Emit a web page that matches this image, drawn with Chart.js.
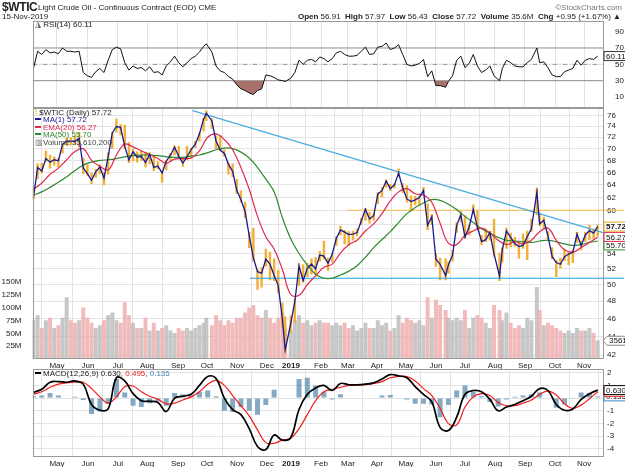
<!DOCTYPE html>
<html lang="en">
<head>
<meta charset="UTF-8">
<title>$WTIC Light Crude Oil - Daily</title>
<script src="https://cdn.jsdelivr.net/npm/chart.js"></script>
<style>
  body { margin: 0; background: #fff; font-family: "Liberation Sans", Arial, sans-serif; }
  #wrap { position: relative; width: 625px; height: 467px; overflow: hidden; }
  canvas { position: absolute; left: 0; top: 0; }
  .txt { position: absolute; z-index: 5; white-space: nowrap; font-size: 8px; line-height: 8px; color: #222; }
  .sw { display: inline-block; width: 6px; height: 2px; vertical-align: 2px; margin-right: 2px; }
</style>
</head>
<body>
<div id="wrap">
  <canvas id="rsiChart" width="625" height="467"></canvas>
  <canvas id="priceChart" width="625" height="467"></canvas>
  <canvas id="macdChart" width="625" height="467"></canvas>

  <!-- header -->
  <div class="txt" style="left:2px;top:1px;font-size:12px;line-height:12px;font-weight:bold;letter-spacing:-0.4px;">$WTIC</div>
  <div class="txt" style="left:38px;top:4px;">Light Crude Oil - Continuous Contract (EOD) CME</div>
  <div class="txt" style="right:3px;top:4px;color:#777;">©StockCharts.com</div>
  <div class="txt" style="left:2px;top:13px;">15-Nov-2019</div>
  <div class="txt" style="right:4px;top:13px;"><b>Open</b> 56.91 &nbsp;<b>High</b> 57.97 &nbsp;<b>Low</b> 56.43 &nbsp;<b>Close</b> 57.72 &nbsp;<b>Volume</b> 35.6M &nbsp;<b>Chg</b> +0.95 (+1.67%) ▲</div>

  <!-- panel legends -->
  <div class="txt" style="left:35px;top:21px;"><span style="color:#666">◮</span> RSI(14) 60.11</div>

  <div class="txt" style="left:35px;top:109px;"><span style="color:#f2b03a;font-weight:bold">⫶</span> $WTIC (Daily) 57.72</div>
  <div class="txt" style="left:35px;top:116px;color:#1a1a90;"><span class="sw" style="background:#1a1a90"></span>MA(1) 57.72</div>
  <div class="txt" style="left:35px;top:123.5px;color:#e0284f;"><span class="sw" style="background:#e0284f"></span>EMA(20) 56.27</div>
  <div class="txt" style="left:35px;top:131px;color:#2d8a2d;"><span class="sw" style="background:#2d8a2d"></span>MA(50) 55.70</div>
  <div class="txt" style="left:35px;top:138.5px;color:#444;"><span style="color:#777">▥</span>Volume 35,610,200</div>

  <div class="txt" style="left:35px;top:370px;"><span class="sw" style="background:#000"></span>MACD(12,26,9) 0.630, <span style="color:#e81c1c">0.495</span>, <span style="color:#3d86c0">0.135</span></div>
</div>

<script>
  // ---------------- data (x = trading day counted from 6-Apr-2018) ----------------
  const monthDays   = [17, 39.4, 61.1, 82.1, 104.5, 125.5, 147.2, 168.8, 186.2, 207.9,
                       227.4, 248.4, 269.4, 291, 312, 333.7, 355.4, 377.1, 398.1];
  const monthLabels = ['May', 'Jun', 'Jul', 'Aug', 'Sep', 'Oct', 'Nov', 'Dec', '2019', 'Feb',
                       'Mar', 'Apr', 'May', 'Jun', 'Jul', 'Aug', 'Sep', 'Oct', 'Nov'];

  const priceTicks = [42, 44, 46, 48, 50, 52, 54, 56, 58, 60, 62, 64, 66, 68, 70, 72, 74, 76];
  const volTicks   = [25, 50, 75, 100, 125, 150];   // millions
  const rsiTicks   = [10, 30, 50, 70, 90];
  const rsiLevels  = [30, 50, 70];
  const macdTicks  = [-4, -3, -2, -1, 0, 1, 2];

  // daily samples (every ~3 sessions)
  const days = [
    0, 3, 6, 9, 12, 15, 18, 21, 24, 27,
    30, 33, 36, 39, 42, 45, 48, 51, 54, 57,
    60, 63, 66, 69, 72, 75, 78, 81, 84, 87,
    90, 93, 96, 99, 102, 105, 108, 111, 114, 117,
    120, 123, 125, 129, 132, 135, 138, 141, 144, 147,
    150, 153, 156, 159, 162, 165, 168, 171, 174, 177,
    180, 182, 186, 189, 192, 195, 198, 201, 204, 207,
    210, 213, 216, 219, 222, 225, 228, 231, 234, 237,
    240, 243, 246, 249, 252, 255, 258, 261, 264, 267,
    270, 273, 276, 279, 282, 285, 288, 291, 294, 298,
    300, 303, 306, 309, 312, 315, 318, 321, 324, 327,
    330, 333, 337, 339, 342, 345, 348, 351, 354, 357,
    360, 364, 366, 369, 372, 375, 378, 381, 384, 387,
    390, 393, 396, 399, 402, 405, 408
  ];
  const closes = [
    62.06, 66.82, 66.22, 68.29, 67.70, 68.10, 67.93, 70.73, 71.36, 71.31,
    71.28, 71.84, 66.73, 65.81, 64.73, 66.10, 66.89, 65.07, 68.58, 72.76,
    73.94, 73.80, 70.38, 68.06, 69.46, 68.52, 68.69, 67.66, 69.01, 66.81,
    67.04, 65.91, 67.86, 68.87, 70.25, 68.72, 67.54, 68.59, 69.85, 70.78,
    72.57, 75.30, 76.41, 74.96, 71.34, 69.75, 69.17, 67.33, 66.18, 63.14,
    61.67, 59.93, 56.46, 53.43, 51.63, 51.45, 53.25, 52.61, 51.15, 49.88,
    45.88, 42.53, 45.41, 47.96, 52.36, 50.51, 52.07, 52.62, 51.99, 53.79,
    53.66, 52.72, 53.90, 56.09, 57.26, 56.94, 56.59, 56.66, 56.87, 58.52,
    60.23, 58.82, 59.30, 62.58, 63.08, 64.61, 63.40, 64.00, 65.89, 63.50,
    61.81, 61.40, 61.66, 62.02, 63.10, 57.91, 59.14, 53.25, 52.59, 51.14,
    52.51, 53.76, 57.90, 59.43, 56.25, 57.66, 60.20, 57.62, 55.63, 55.88,
    56.87, 53.95, 51.09, 54.50, 57.10, 56.21, 55.35, 54.93, 55.10, 56.30,
    57.40, 62.90, 58.11, 58.64, 56.41, 53.62, 52.81, 52.59, 53.59, 53.93,
    54.16, 56.66, 55.06, 56.54, 57.15, 56.80, 57.72
  ];
  const highs = [
    63.7, 67.4, 67.5, 69.6, 68.9, 68.6, 68.3, 70.8, 71.9, 71.9,
    72.2, 72.8, 68.4, 67.3, 65.9, 66.5, 67.3, 66.0, 69.3, 72.9,
    75.3, 74.3, 74.2, 71.1, 69.9, 69.5, 69.6, 69.3, 69.3, 68.8,
    67.8, 66.2, 68.0, 69.2, 70.5, 70.4, 68.3, 70.4, 70.1, 71.3,
    72.8, 75.4, 76.9, 75.4, 72.2, 72.3, 69.8, 67.6, 67.4, 64.9,
    63.1, 61.3, 56.9, 57.5, 51.9, 52.2, 54.6, 54.2, 53.3, 51.8,
    47.8, 46.2, 46.3, 48.3, 52.7, 52.5, 52.7, 53.3, 53.5, 54.3,
    55.7, 53.4, 54.1, 56.3, 57.8, 57.2, 57.0, 57.1, 57.4, 58.9,
    60.4, 59.8, 59.6, 62.8, 63.6, 64.8, 64.1, 64.2, 66.6, 64.2,
    63.9, 62.3, 62.2, 62.3, 63.6, 61.1, 59.5, 54.0, 53.4, 53.3,
    52.9, 54.4, 58.3, 59.9, 59.3, 58.0, 60.9, 60.1, 56.5, 57.4,
    57.1, 58.8, 54.1, 54.8, 57.5, 56.8, 56.2, 55.4, 56.7, 57.1,
    58.8, 63.4, 59.6, 59.1, 57.0, 54.8, 53.1, 53.4, 54.6, 54.2,
    54.5, 56.9, 55.7, 56.9, 57.9, 57.4, 57.97
  ];
  const lows = [
    61.8, 65.0, 65.9, 67.8, 66.7, 67.2, 66.9, 69.2, 70.5, 70.6,
    70.8, 70.3, 65.8, 65.5, 64.2, 65.2, 65.8, 64.0, 65.7, 70.0,
    72.9, 72.4, 70.0, 67.6, 67.9, 67.7, 68.0, 66.9, 67.4, 66.3,
    66.6, 64.4, 66.4, 67.9, 68.9, 68.3, 67.0, 68.1, 68.3, 70.2,
    71.3, 73.1, 75.0, 73.6, 70.0, 69.6, 68.7, 65.7, 65.3, 62.6,
    61.3, 59.0, 54.8, 53.0, 49.4, 49.7, 52.3, 50.6, 50.5, 49.0,
    45.0, 42.4, 44.4, 45.5, 49.9, 50.3, 51.0, 51.3, 51.3, 53.0,
    53.3, 51.8, 52.9, 55.1, 56.5, 55.3, 55.1, 55.8, 56.4, 58.0,
    58.6, 58.2, 58.6, 61.1, 62.1, 63.6, 63.1, 63.5, 65.3, 62.8,
    61.3, 60.0, 60.9, 60.8, 62.8, 57.3, 58.0, 52.3, 50.6, 50.6,
    51.4, 53.0, 56.9, 58.4, 56.1, 56.5, 59.6, 57.3, 55.2, 55.6,
    55.8, 53.6, 50.5, 52.9, 54.7, 54.9, 55.0, 53.4, 54.7, 53.2,
    57.0, 59.4, 57.8, 57.5, 55.8, 53.3, 51.0, 52.1, 53.1, 52.5,
    52.8, 55.5, 54.5, 55.6, 55.9, 56.1, 56.43
  ];
  const volumes = [   // millions of contracts
    75, 85, 60, 75, 80, 60, 65, 80, 120, 75,
    70, 75, 100, 80, 70, 60, 65, 75, 85, 90,
    75, 70, 110, 85, 70, 60, 60, 80, 55, 70,
    55, 60, 65, 55, 50, 60, 55, 60, 55, 60,
    65, 70, 80, 65, 85, 75, 65, 75, 70, 80,
    80, 90, 100, 105, 85, 80, 95, 80, 70, 80,
    90, 60, 55, 75, 85, 70, 75, 65, 70, 75,
    70, 70, 65, 70, 65, 70, 60, 65, 55, 60,
    70, 60, 60, 75, 65, 70, 55, 60, 85, 70,
    80, 75, 70, 75, 65, 120, 80, 115, 105, 95,
    80, 75, 80, 75, 95, 60, 80, 85, 80, 70,
    60, 105, 95, 75, 90, 70, 60, 65, 60, 80,
    75, 140, 95, 65, 70, 65, 60, 55, 50, 55,
    50, 60, 55, 55, 60, 50, 35.61
  ];
  const rsi = [
    45, 66, 62, 68, 64, 65, 63, 70, 66, 66,
    65, 66, 40, 36, 34, 41, 45, 40, 55, 68,
    71, 69, 52, 43, 48, 45, 46, 42, 47, 40,
    41, 37, 48, 53, 60, 52, 47, 52, 57, 60,
    65, 72, 75, 65, 48, 42, 40, 35, 32, 25,
    20, 18, 15, 13, 18, 20, 37, 36, 34, 31,
    30, 29, 33, 40, 55, 50, 55, 56, 53, 59,
    57, 53, 57, 64, 66, 62, 60, 60, 61, 66,
    71, 62, 63, 71, 72, 76, 68, 70, 74, 62,
    50, 48, 49, 51, 56, 35, 42, 24, 24, 22,
    29, 36, 55, 60, 46, 51, 62, 48, 40, 43,
    48, 36, 30, 45, 55, 52, 48, 47, 47, 52,
    56, 70, 52, 53, 46, 37, 35, 35, 41, 43,
    45, 55, 49, 55, 57, 56, 60.11
  ];

  // smooth indicators (every 6 sessions)
  const slowDays = [
    0, 6, 12, 18, 24, 30, 36, 42, 48, 54,
    60, 66, 72, 78, 84, 90, 96, 102, 108, 114,
    120, 126, 132, 138, 144, 150, 156, 162, 168, 174,
    180, 186, 192, 198, 204, 210, 216, 222, 228, 234,
    240, 246, 252, 258, 264, 270, 276, 282, 288, 294,
    300, 306, 312, 318, 324, 330, 336, 342, 348, 354,
    360, 366, 372, 378, 384, 390, 396, 402, 408
  ];
  const ema20 = [
    63.3, 64.3, 65.7, 66.7, 68.1, 69.5, 70.0, 68.0, 67.0, 66.4,
    68.9, 70.8, 70.3, 69.6, 69.0, 68.3, 67.5, 68.2, 68.3, 68.4,
    69.6, 72.0, 72.6, 71.6, 69.8, 66.8, 63.3, 59.2, 56.3, 54.6,
    51.9, 48.8, 48.7, 50.0, 51.1, 52.2, 52.6, 54.1, 55.2, 55.8,
    57.1, 58.1, 59.6, 61.5, 62.9, 63.4, 62.6, 62.4, 61.3, 58.2,
    55.4, 55.2, 56.5, 57.1, 57.5, 56.8, 55.8, 55.2, 55.6, 55.3,
    55.8, 57.0, 57.5, 55.8, 54.5, 54.2, 54.8, 55.5, 56.27
  ];
  const ma50 = [
    62.4, 62.9, 63.6, 64.4, 65.3, 66.3, 67.2, 67.7, 68.0, 68.1,
    68.3, 68.6, 68.8, 68.9, 68.9, 68.8, 68.6, 68.5, 68.5, 68.7,
    68.9, 69.3, 69.8, 70.1, 70.0, 69.4, 68.4, 66.8, 64.9, 62.9,
    59.0, 56.0, 54.0, 52.5, 51.3, 50.8, 50.8, 51.2, 51.7, 52.4,
    53.5, 54.8, 55.9, 57.0, 58.3, 59.6, 60.5, 61.2, 61.7, 61.6,
    61.0, 60.2, 59.2, 58.3, 57.4, 56.8, 56.2, 55.8, 55.7, 55.6,
    55.5, 55.7, 55.8, 55.6, 55.3, 55.1, 55.2, 55.5, 55.70
  ];
  const macd = [
    0.45, 0.7, 1.25, 1.3, 1.25, 1.35, 1.1, -0.5, -0.95, -0.85,
    1.6, 1.35, 0.35, -0.2, -0.25, -0.35, -1.05, 0.0, 0.15, 0.3,
    1.0, 1.7, 1.55, 0.0, -0.9, -1.3, -2.4, -3.8, -4.05, -2.9,
    -3.3, -3.1, -0.9, 0.3, 0.8, 1.0, 0.6, 1.15, 1.05, 1.05,
    1.1, 1.2, 1.5, 1.85, 1.75, 1.6, 0.9, 0.3, -0.3, -2.3,
    -2.55, -1.5, 0.3, 0.6, 0.5, -0.1, -1.0, -0.7, -0.5, -0.2,
    0.15, 0.75, 0.6, -0.5, -0.95, -0.85, -0.1, 0.35, 0.63
  ];
  const signal = [
    0.3, 0.5, 0.85, 1.1, 1.2, 1.25, 1.25, 0.75, 0.1, -0.4,
    0.1, 0.9, 0.95, 0.5, 0.15, -0.1, -0.45, -0.4, -0.15, 0.1,
    0.5, 1.1, 1.4, 1.0, 0.2, -0.6, -1.4, -2.5, -3.5, -3.55,
    -3.3, -3.15, -2.4, -1.3, -0.2, 0.5, 0.7, 0.85, 1.0, 1.0,
    1.05, 1.15, 1.3, 1.6, 1.7, 1.7, 1.35, 0.75, 0.2, -0.8,
    -2.0, -2.1, -0.7, 0.1, 0.35, 0.2, -0.35, -0.6, -0.6, -0.4,
    -0.15, 0.3, 0.55, 0.25, -0.45, -0.8, -0.55, -0.05, 0.495
  ];

  // drawn lines on the price panel
  const trendDays   = [115, 427];
  const trendVals   = [76.9, 56.0];
  const supportDays = [156.5, 427];
  const supportVal  = 50.8;
  const resistDays  = [226.7, 427];
  const resistVal   = 60.1;

  // ---------------- layout / helpers ----------------
  const FONT = '"Liberation Sans", Arial, sans-serif';
  const X_MIN = -0.7, X_MAX = 411.8;
  const RSI_TOP = 21, RSI_BOTTOM = 108;
  const PRICE_BOTTOM = 359;
  const MACD_TOP = 369, MACD_BOTTOM = 457;
  const H = 467;

  const pts = (xs, ys) => xs.map((x, i) => ({ x: x, y: ys[i] }));
  const flat = (xs, v) => xs.map(x => ({ x: x, y: v }));
  const last = a => a[a.length - 1];

  function xAxis(showLabels) {
    return {
      type: 'linear', min: X_MIN, max: X_MAX, offset: false, bounds: 'data',
      afterBuildTicks: s => { s.ticks = monthDays.map(v => ({ value: v })); },
      afterFit: s => { s.height = showLabels ? 10 : 0; },
      grid: { color: '#e3e3e3', drawTicks: false },
      border: { display: false },
      ticks: {
        display: showLabels, autoSkip: false, maxRotation: 0, padding: 2, color: '#222',
        font: c => ({ family: FONT, size: 8, weight: monthLabels[c.index] === '2019' ? 'bold' : 'normal' }),
        callback: (v, i) => monthLabels[i]
      }
    };
  }

  function rightAxis(min, max, ticks, extra) {
    return Object.assign({
      position: 'right', min: min, max: max, bounds: 'data',
      afterBuildTicks: s => { s.ticks = ticks.map(v => ({ value: v })); },
      afterFit: s => { s.width = 22; },
      grid: { color: '#e3e3e3', drawTicks: false },
      border: { display: false },
      ticks: { padding: 4, color: '#222', font: { family: FONT, size: 8 }, callback: v => String(v) }
    }, extra || {});
  }

  // grey frame round each panel
  const frame = {
    id: 'frame',
    afterDatasetsDraw(chart) {
      const { ctx, chartArea: a } = chart;
      ctx.save();
      ctx.strokeStyle = '#9a9a9a';
      ctx.lineWidth = 1;
      ctx.strokeRect(Math.round(a.left) + 0.5, Math.round(a.top) + 0.5, Math.round(a.width) - 1, Math.round(a.height) - 1);
      ctx.restore();
    }
  };

  // last-value boxes on the right axis
  function valueBoxes(items, minGap) {
    return {
      id: 'valueBoxes',
      afterDraw(chart) {
        const ctx = chart.ctx;
        const right = chart.chartArea.right;
        let prev = -1e9;
        const placed = items.map(it => {
          let y = chart.scales[it.axis].getPixelForValue(it.value);
          if (minGap && y < prev + minGap) y = prev + minGap;
          prev = y;
          return Object.assign({ y: y }, it);
        });
        placed.slice().reverse().forEach(it => {
          ctx.save();
          ctx.font = (it.bold ? 'bold ' : '') + '8px ' + FONT;
          const w = ctx.measureText(it.text).width + 4, h = 9;
          const x0 = right + (it.arrow ? 4 : 1);
          ctx.fillStyle = '#fff';
          ctx.strokeStyle = it.color;
          ctx.lineWidth = 1;
          ctx.beginPath();
          if (it.arrow) {
            ctx.moveTo(right, it.y);
            ctx.lineTo(x0, it.y - h / 2);
          } else {
            ctx.moveTo(x0, it.y - h / 2);
          }
          ctx.lineTo(x0 + w, it.y - h / 2);
          ctx.lineTo(x0 + w, it.y + h / 2);
          ctx.lineTo(x0, it.y + h / 2);
          ctx.closePath();
          ctx.fill();
          ctx.stroke();
          ctx.fillStyle = '#111';
          ctx.textBaseline = 'middle';
          ctx.fillText(it.text, x0 + 2, it.y + 0.5);
          ctx.restore();
        });
      }
    };
  }

  const common = {
    responsive: false, animation: false, events: [],
    plugins: { legend: { display: false }, tooltip: { enabled: false } }
  };

  // ---------------- RSI panel ----------------
  new Chart(document.getElementById('rsiChart'), {
    type: 'line',
    data: {
      datasets: [
        { data: pts(days, rsi), borderColor: '#111', borderWidth: 1, pointRadius: 0,
          fill: { target: { value: 30 }, above: 'rgba(0,0,0,0)', below: '#a8726a' }, order: 1 },
        { data: flat([X_MIN, X_MAX], rsiLevels[0]), borderColor: '#8f8f8f', borderWidth: 1, pointRadius: 0, order: 3 },
        { data: flat([X_MIN, X_MAX], rsiLevels[1]), borderColor: '#8f8f8f', borderWidth: 1, pointRadius: 0,
          borderDash: [5, 2, 1, 2], order: 3 },
        { data: flat([X_MIN, X_MAX], rsiLevels[2]), borderColor: '#8f8f8f', borderWidth: 1, pointRadius: 0, order: 3 }
      ]
    },
    options: Object.assign({}, common, {
      layout: { autoPadding: false, padding: { left: 32.5, right: 0, top: RSI_TOP, bottom: H - RSI_BOTTOM } },
      scales: {
        x: xAxis(false),
        y: rightAxis(-3.4, 103, rsiTicks, { grid: { display: false } })
      }
    }),
    plugins: [frame, valueBoxes([{ axis: 'y', value: last(rsi), text: last(rsi).toFixed(2), color: '#333' }], 0)]
  });

  // ---------------- price + volume panel ----------------
  const volColors = volumes.map((v, i) => (i > 0 && closes[i] < closes[i - 1]) ? 'rgba(240,175,175,0.85)' : 'rgba(185,185,185,0.8)');

  new Chart(document.getElementById('priceChart'), {
    type: 'line',
    data: {
      datasets: [
        { type: 'bar', yAxisID: 'vol', data: pts(days, volumes), backgroundColor: volColors,
          barThickness: 3.3, grouped: false, order: 10 },
        { type: 'bar', yAxisID: 'y', data: days.map((d, i) => ({ x: d, y: [lows[i], highs[i]] })),
          backgroundColor: '#f2b03a', barThickness: 1.8, grouped: false, order: 9 },
        { data: flat(supportDays, supportVal), borderColor: '#2a9fdc', borderWidth: 1.2, pointRadius: 0, clip: false, order: 7 },
        { data: flat(resistDays, resistVal), borderColor: '#f1c04a', borderWidth: 1.2, pointRadius: 0, clip: false, order: 7 },
        { data: pts(trendDays, trendVals), borderColor: '#4aaae2', borderWidth: 1.2, pointRadius: 0, clip: false, order: 6 },
        { data: pts(slowDays, ma50), borderColor: '#2d8a2d', borderWidth: 1.2, pointRadius: 0, tension: 0.4, order: 5 },
        { data: pts(slowDays, ema20), borderColor: '#e0284f', borderWidth: 1.2, pointRadius: 0, tension: 0.4, order: 4 },
        { data: pts(days, closes), borderColor: '#1a1a90', borderWidth: 1.3, pointRadius: 0, order: 3 }
      ]
    },
    options: Object.assign({}, common, {
      layout: { autoPadding: false, padding: { left: 0, right: 0, top: RSI_BOTTOM, bottom: H - PRICE_BOTTOM - 10 } },
      scales: {
        x: xAxis(true),
        y: rightAxis(41.6, 77.4, priceTicks, { type: 'logarithmic' }),
        vol: {
          type: 'linear', position: 'left', min: 0, max: 490, bounds: 'data',
          afterBuildTicks: s => { s.ticks = volTicks.map(v => ({ value: v })); },
          afterFit: s => { s.width = 32.5; },
          grid: { display: false },
          border: { display: false },
          ticks: { padding: 3, color: '#222', font: { family: FONT, size: 8 }, callback: v => v + 'M' }
        }
      }
    }),
    plugins: [frame, valueBoxes([
      { axis: 'y', value: last(closes), text: last(closes).toFixed(2), color: '#e8a820', bold: true },
      { axis: 'y', value: last(ema20), text: last(ema20).toFixed(2), color: '#e0284f' },
      { axis: 'y', value: last(ma50), text: last(ma50).toFixed(2), color: '#2d8a2d' },
      { axis: 'vol', value: last(volumes), text: '35610', color: '#888', arrow: true }
    ], 8.5)]
  });

  // ---------------- MACD panel ----------------
  const hist = macd.map((m, i) => +(m - signal[i]).toFixed(3));   // MACD minus signal, as plotted

  new Chart(document.getElementById('macdChart'), {
    type: 'line',
    data: {
      datasets: [
        { type: 'bar', data: pts(slowDays, hist), backgroundColor: 'rgba(78,132,170,0.7)',
          barPercentage: 0.6, categoryPercentage: 1, grouped: false, order: 5 },
        { data: pts(slowDays, signal), borderColor: '#f01c1c', borderWidth: 1.2, pointRadius: 0, tension: 0.4, order: 3 },
        { data: pts(slowDays, macd), borderColor: '#000', borderWidth: 1.7, pointRadius: 0, tension: 0.4, order: 2 }
      ]
    },
    options: Object.assign({}, common, {
      layout: { autoPadding: false, padding: { left: 32.5, right: 0, top: MACD_TOP, bottom: H - MACD_BOTTOM - 10 } },
      scales: {
        x: xAxis(true),
        y: rightAxis(-4.63, 2.29, macdTicks)
      }
    }),
    plugins: [frame, valueBoxes([
      { axis: 'y', value: last(macd), text: last(macd).toFixed(3), color: '#000' },
      { axis: 'y', value: last(signal), text: last(signal).toFixed(3), color: '#f01c1c' },
      { axis: 'y', value: last(hist), text: last(hist).toFixed(3), color: '#3d86c0' }
    ], 0)]
  });
</script>
</body>
</html>
